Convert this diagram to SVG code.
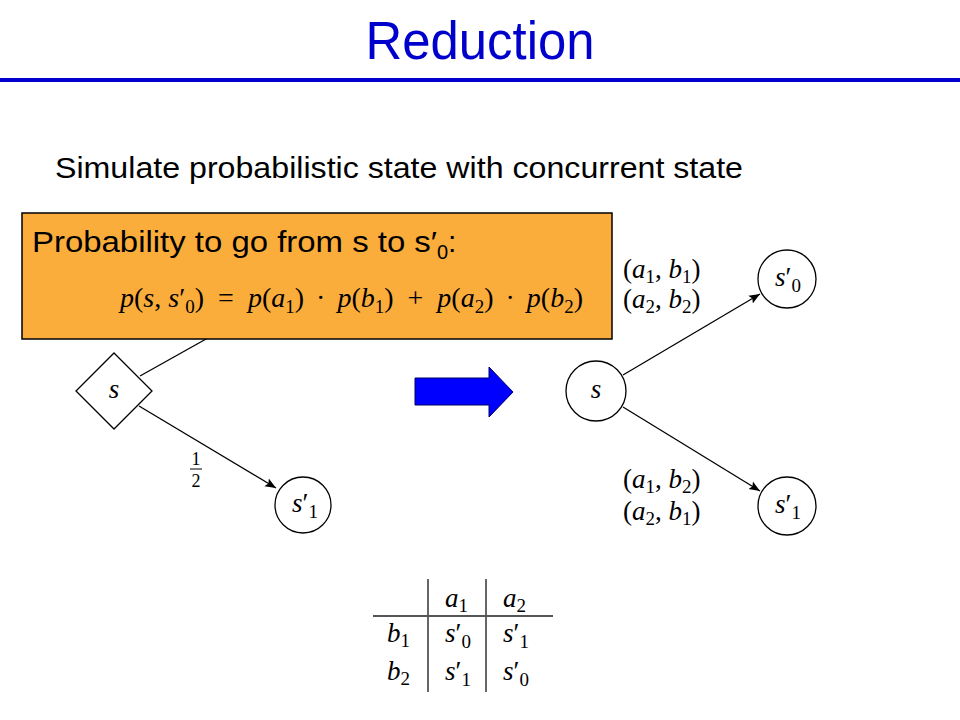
<svg xmlns="http://www.w3.org/2000/svg" width="960" height="720" viewBox="0 0 960 720">
<defs>
<marker id="ah" viewBox="0 0 10 10" refX="10" refY="5" markerWidth="11" markerHeight="11" markerUnits="userSpaceOnUse" orient="auto">
<path d="M0,1 L10,5 L0,9 L2,5 Z" fill="#000"/>
</marker>
</defs>
<style>
.sans{font-family:"Liberation Sans",Arial,sans-serif;}
.m{font-family:"Liberation Serif","Times New Roman",serif;font-size:27px;fill:#000;}
.eq{font-size:28px;}
.frac{font-size:18px;}
.i{font-style:italic;}
.sb{font-size:19px;}
.node{fill:#fff;stroke:#000;stroke-width:1.3;}
.edge{stroke:#000;stroke-width:1.3;fill:none;}
</style>
<rect width="960" height="720" fill="#fff"/>
<text class="sans" x="480" y="59" font-size="54" fill="#0000CC" text-anchor="middle" textLength="229" lengthAdjust="spacingAndGlyphs">Reduction</text>
<rect x="0" y="78" width="960" height="4" fill="#0000CC"/>
<text class="sans" x="55" y="178" font-size="30" fill="#000" textLength="688" lengthAdjust="spacingAndGlyphs">Simulate probabilistic state with concurrent state</text>

<g id="connectors">
<line class="edge" x1="140" y1="376" x2="215" y2="334"/>
<line class="edge" x1="139" y1="406" x2="276" y2="488" marker-end="url(#ah)"/>
<line class="edge" x1="623" y1="375" x2="760" y2="294" marker-end="url(#ah)"/>
<line class="edge" x1="623" y1="407" x2="760" y2="491" marker-end="url(#ah)"/>
</g>

<g id="callout">
<rect x="22" y="213" width="590" height="126" fill="#FBAD3C" stroke="#000" stroke-width="1.5"/>
<text class="sans" x="32" y="252" font-size="30" fill="#000" textLength="405" lengthAdjust="spacingAndGlyphs">Probability to go from s to s′</text>
<text class="sans" x="437" y="259" font-size="20" fill="#000">0</text>
<text class="sans" x="448" y="252" font-size="30" fill="#000">:</text>
<text class="m eq" x="120" y="307"><tspan class="i">p</tspan>(<tspan class="i">s</tspan>,<tspan class="i" dx="7">s</tspan>′<tspan class="sb" dy="6">0</tspan><tspan dy="-6">)</tspan><tspan dx="14">=</tspan><tspan class="i" dx="14">p</tspan>(<tspan class="i">a</tspan><tspan class="sb" dy="6">1</tspan><tspan dy="-6">)</tspan><tspan dx="12">·</tspan><tspan class="i" dx="12">p</tspan>(<tspan class="i">b</tspan><tspan class="sb" dy="6">1</tspan><tspan dy="-6">)</tspan><tspan dx="14">+</tspan><tspan class="i" dx="14">p</tspan>(<tspan class="i">a</tspan><tspan class="sb" dy="6">2</tspan><tspan dy="-6">)</tspan><tspan dx="12">·</tspan><tspan class="i" dx="12">p</tspan>(<tspan class="i">b</tspan><tspan class="sb" dy="6">2</tspan><tspan dy="-6">)</tspan></text>
</g>

<g id="node-s-left">
<polygon class="node" points="114,353 152,391 114,429 76,391"/>
<text class="m i" x="114" y="398" text-anchor="middle">s</text>
</g>
<g id="label-half">
<text class="m frac" x="196" y="465" text-anchor="middle">1</text>
<line x1="190" y1="469" x2="202" y2="469" stroke="#000" stroke-width="1"/>
<text class="m frac" x="196" y="487" text-anchor="middle">2</text>
</g>
<g id="node-s1-left">
<circle class="node" cx="303" cy="505" r="28"/>
<text class="m" x="292" y="512"><tspan class="i">s</tspan>′<tspan class="sb" dy="6">1</tspan></text>
</g>

<g id="big-arrow">
<polygon points="415,378 489,378 489,367 513,392 489,417 489,405 415,405" fill="#0000FF" stroke="#000066" stroke-width="1"/>
</g>

<g id="node-s-right">
<circle class="node" cx="596" cy="391" r="30"/>
<text class="m i" x="596" y="398" text-anchor="middle">s</text>
</g>
<g id="node-s0-right">
<circle class="node" cx="787" cy="279" r="29"/>
<text class="m" x="775" y="286"><tspan class="i">s</tspan>′<tspan class="sb" dy="6">0</tspan></text>
</g>
<g id="node-s1-right">
<circle class="node" cx="787" cy="506" r="29"/>
<text class="m" x="775" y="513"><tspan class="i">s</tspan>′<tspan class="sb" dy="6">1</tspan></text>
</g>

<g id="edge-labels">
<text class="m" x="623" y="278">(<tspan class="i">a</tspan><tspan class="sb" dy="5">1</tspan><tspan dy="-5">, </tspan><tspan class="i">b</tspan><tspan class="sb" dy="5">1</tspan><tspan dy="-5">)</tspan></text>
<text class="m" x="623" y="308">(<tspan class="i">a</tspan><tspan class="sb" dy="5">2</tspan><tspan dy="-5">, </tspan><tspan class="i">b</tspan><tspan class="sb" dy="5">2</tspan><tspan dy="-5">)</tspan></text>
<text class="m" x="623" y="488">(<tspan class="i">a</tspan><tspan class="sb" dy="5">1</tspan><tspan dy="-5">, </tspan><tspan class="i">b</tspan><tspan class="sb" dy="5">2</tspan><tspan dy="-5">)</tspan></text>
<text class="m" x="623" y="520">(<tspan class="i">a</tspan><tspan class="sb" dy="5">2</tspan><tspan dy="-5">, </tspan><tspan class="i">b</tspan><tspan class="sb" dy="5">1</tspan><tspan dy="-5">)</tspan></text>
</g>

<g id="table">
<line x1="428" y1="579" x2="428" y2="692" stroke="#000" stroke-width="1.2"/>
<line x1="486" y1="579" x2="486" y2="692" stroke="#000" stroke-width="1.2"/>
<line x1="373" y1="616" x2="553" y2="616" stroke="#555" stroke-width="2"/>
<text class="m" x="445" y="607"><tspan class="i">a</tspan><tspan class="sb" dy="5">1</tspan></text>
<text class="m" x="503" y="607"><tspan class="i">a</tspan><tspan class="sb" dy="5">2</tspan></text>
<text class="m" x="387" y="642"><tspan class="i">b</tspan><tspan class="sb" dy="5">1</tspan></text>
<text class="m" x="387" y="680"><tspan class="i">b</tspan><tspan class="sb" dy="5">2</tspan></text>
<text class="m" x="445" y="642"><tspan class="i">s</tspan>′<tspan class="sb" dy="6">0</tspan></text>
<text class="m" x="503" y="642"><tspan class="i">s</tspan>′<tspan class="sb" dy="6">1</tspan></text>
<text class="m" x="445" y="680"><tspan class="i">s</tspan>′<tspan class="sb" dy="6">1</tspan></text>
<text class="m" x="503" y="680"><tspan class="i">s</tspan>′<tspan class="sb" dy="6">0</tspan></text>
</g>
</svg>
